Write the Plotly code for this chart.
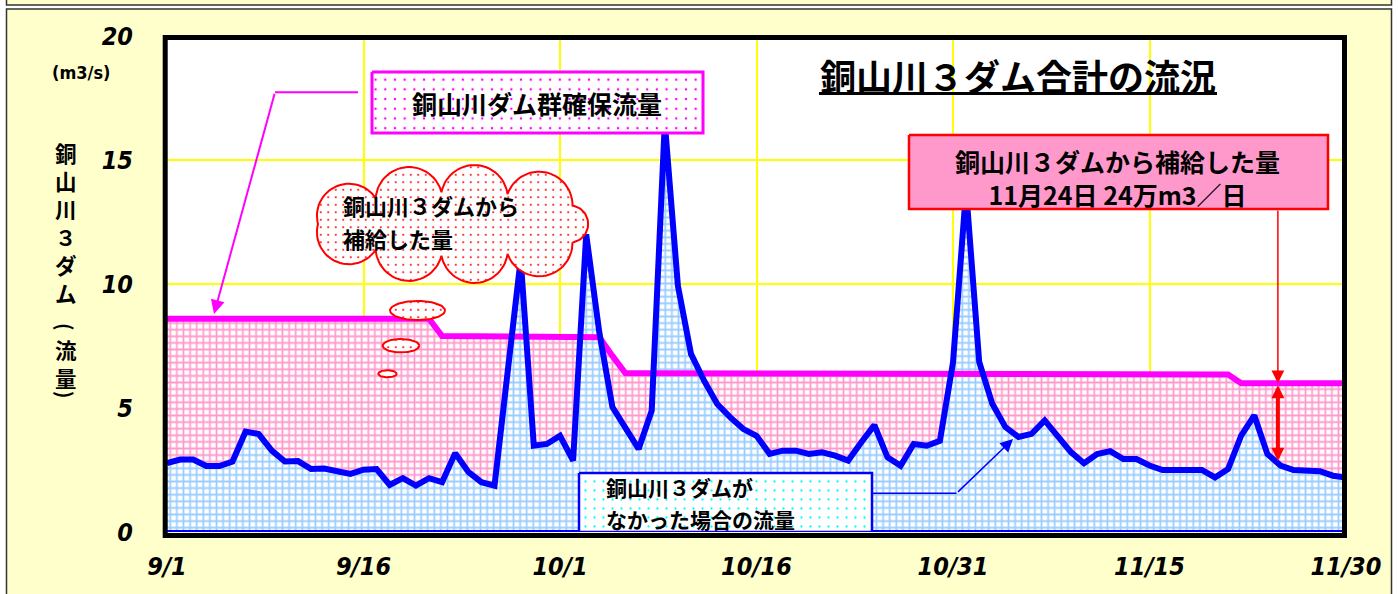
import numpy as np
import plotly.graph_objects as go

# ---------------- data ----------------
tick_days = [0, 15, 30, 45, 60, 75, 90]
tick_labels = ["9/1", "9/16", "10/1", "10/16", "10/31", "11/15", "11/30"]
y_ticks = [0, 5, 10, 15, 20]
y_tick_labels = ["0", "5", "10", "15", "20"]

# flow without the 3 dams (m3/s), 9/1 .. 11/30
flow = [2.78, 2.92, 2.92, 2.66, 2.66, 2.84, 4.05, 3.95, 3.28, 2.84,
        2.86, 2.54, 2.56, 2.42, 2.34, 2.51, 2.54, 1.90, 2.17, 1.87,
        2.17, 2.01, 3.18, 2.42, 2.01, 1.87, 6.50, 11.0, 3.48, 3.55,
        3.88, 2.88, 12.0, 8.05, 5.04, 4.15, 3.35, 4.89, 16.5, 9.93,
        7.18, 6.10, 5.16, 4.62, 4.15, 3.88, 3.15, 3.28, 3.28, 3.15,
        3.21, 3.08, 2.88, 3.62, 4.31, 3.01, 2.67, 3.55, 3.48, 3.68,
        6.84, 13.8, 6.86, 5.17, 4.23, 3.83, 3.96, 4.50, 3.89, 3.22,
        2.77, 3.14, 3.26, 2.94, 2.94, 2.68, 2.50, 2.50, 2.48, 2.50,
        2.20, 2.54, 3.89, 4.70, 3.14, 2.68, 2.50, 2.50, 2.45, 2.27,
        2.20]

# secured flow of the dam group (m3/s)
secured = [8.6, 8.6, 8.6, 8.6, 8.6, 8.6, 8.6, 8.6, 8.6, 8.6,
           8.6, 8.6, 8.6, 8.6, 8.6, 8.6, 8.6, 8.6, 8.6, 8.6,
           8.6, 7.9, 7.9, 7.9, 7.9, 7.9, 7.9, 7.9, 7.9, 7.85,
           7.85, 7.85, 7.85, 7.85, 7.1, 6.4, 6.4, 6.4, 6.4, 6.4,
           6.4, 6.4, 6.4, 6.4, 6.4, 6.4, 6.4, 6.4, 6.4, 6.4,
           6.4, 6.4, 6.4, 6.4, 6.4, 6.4, 6.4, 6.4, 6.4, 6.4,
           6.4, 6.35, 6.35, 6.35, 6.35, 6.35, 6.35, 6.35, 6.35, 6.35,
           6.35, 6.35, 6.35, 6.35, 6.35, 6.35, 6.35, 6.35, 6.35, 6.35,
           6.35, 6.35, 6.0, 6.0, 6.0, 6.0, 6.0, 6.0, 6.0, 6.0,
           6.0]

days = list(range(len(flow)))
supply_day = 84.8  # 11/24 marker

# ---------------- layout geometry ----------------
W, H = 1398, 594
ML, MR, MT, MB = 167, 52, 36, 62
XMAX, YMAX = 90, 20
PW, PH = W - ML - MR, H - MT - MB
XS, YS = PW / XMAX, PH / YMAX


def dx(px):
    return (np.asarray(px, dtype=float) - ML) / XS


def dy(py):
    return (H - MB - np.asarray(py, dtype=float)) / YS


def ppx(px):
    return (px - ML) / PW


def ppy(py):
    return (H - MB - py) / PH


def rect_xy(x0, y0, x1, y1):
    return dx([x0, x1, x1, x0, x0]).tolist(), dy([y0, y0, y1, y1, y0]).tolist()


def ellipse_xy(cx, cy, rx, ry, n=80):
    t = np.linspace(0, 2 * np.pi, n)
    return dx(cx + rx * np.cos(t)).tolist(), dy(cy + ry * np.sin(t)).tolist()


def cloud_xy(cx, cy, a, b, nb, k=0.85, phase=0.3, per=30):
    t = np.linspace(0, 2 * np.pi, 3000)
    ex, ey = cx + a * np.cos(t), cy + b * np.sin(t)
    s = np.concatenate([[0], np.cumsum(np.hypot(np.diff(ex), np.diff(ey)))])
    tg = np.mod(np.linspace(0, s[-1], nb + 1)[:-1] + s[-1] / nb * phase, s[-1])
    px, py = np.interp(tg, s, ex), np.interp(tg, s, ey)
    xs, ys = [], []
    C = np.array([cx, cy])
    for i in range(nb):
        P = np.array([px[i], py[i]])
        Q = np.array([px[(i + 1) % nb], py[(i + 1) % nb]])
        M = (P + Q) / 2
        c2 = np.linalg.norm(Q - P) / 2
        u = (Q - P) / (2 * c2)
        n = np.array([-u[1], u[0]])
        if np.dot(n, M - C) < 0:
            n = -n
        h = k * c2
        R = (c2 ** 2 + h ** 2) / (2 * h)
        O = M - n * (R - h)
        aP = np.arctan2(*(P - O)[::-1])
        aQ = np.arctan2(*(Q - O)[::-1])
        an = np.arctan2(n[1], n[0])
        dP = (aP - an + np.pi) % (2 * np.pi) - np.pi
        dQ = (aQ - an + np.pi) % (2 * np.pi) - np.pi
        ang = an + np.linspace(dP, dQ, per)
        xs.extend(O[0] + R * np.cos(ang))
        ys.extend(O[1] + R * np.sin(ang))
    xs.append(xs[0])
    ys.append(ys[0])
    return dx(xs).tolist(), dy(ys).tolist()


JP = "Noto Sans CJK JP"
NUM = "DejaVu Sans Condensed, Liberation Sans Narrow, DejaVu Sans, sans-serif"
PINK_GRID = "#FF99CC"
BLUE_GRID = "#99CCFF"

fig = go.Figure()

# pink area under secured flow
fig.add_trace(go.Scatter(
    x=days, y=secured, mode="lines", line=dict(width=0), fill="tozeroy",
    fillcolor="white",
    fillpattern=dict(shape="+", fgcolor=PINK_GRID, bgcolor="white", size=6.6,
                     solidity=0.45, fgopacity=1),
    hoverinfo="skip"))

# blue area under natural flow (closed polygon with outline)
fig.add_trace(go.Scatter(
    x=days + [days[-1], days[0]], y=flow + [0, 0], mode="lines",
    line=dict(width=4, color="#0000FF"), fill="toself", fillcolor="white",
    fillpattern=dict(shape="+", fgcolor=BLUE_GRID, bgcolor="white", size=6.6,
                     solidity=0.45, fgopacity=1),
    hoverinfo="skip"))

# secured flow line
fig.add_trace(go.Scatter(x=days, y=secured, mode="lines",
                         line=dict(width=6, color="#FF00FF"), hoverinfo="skip"))
# natural flow line
fig.add_trace(go.Scatter(x=days, y=flow, mode="lines",
                         line=dict(width=6, color="#0000FF"), hoverinfo="skip"))

# --- callout boxes ---
bx, by = rect_xy(579, 473, 872, 532)
fig.add_trace(go.Scatter(x=bx, y=by, mode="lines", line=dict(width=2.5, color="#0000FF"),
                         fill="toself", fillcolor="white",
                         fillpattern=dict(shape=".", fgcolor="#00FFFF", bgcolor="white",
                                          size=9, solidity=0.05, fgopacity=1),
                         hoverinfo="skip"))

mx, my = rect_xy(372, 72, 703, 133)
fig.add_trace(go.Scatter(x=mx, y=my, mode="lines", line=dict(width=3, color="#FF00FF"),
                         fill="toself", fillcolor="white",
                         fillpattern=dict(shape=".", fgcolor="#FF00FF", bgcolor="white",
                                          size=9.7, solidity=0.05, fgopacity=1),
                         hoverinfo="skip"))

rx, ry = rect_xy(909, 135, 1328, 209)
fig.add_trace(go.Scatter(x=rx, y=ry, mode="lines", line=dict(width=2.5, color="#FF0000"),
                         fill="toself", fillcolor="#FF99CC", hoverinfo="skip"))

cx_, cy_ = cloud_xy(458, 224, 140, 32, 9, k=0.85, phase=0.5)
fig.add_trace(go.Scatter(x=cx_, y=cy_, mode="lines", line=dict(width=2, color="#FF0000"),
                         fill="toself", fillcolor="white",
                         fillpattern=dict(shape=".", fgcolor="#FF0000", bgcolor="white",
                                          size=7.5, solidity=0.06, fgopacity=1),
                         hoverinfo="skip"))

for (ecx, ecy, erx, ery, dotted) in [(417.5, 310.5, 27.5, 9.5, True),
                                      (401, 345.7, 18.3, 6.7, True),
                                      (387.5, 373.8, 9.2, 3.5, False)]:
    ex_, ey_ = ellipse_xy(ecx, ecy, erx, ery)
    kw = dict(fillcolor="white")
    if dotted:
        kw["fillpattern"] = dict(shape=".", fgcolor="#FF0000", bgcolor="white",
                                 size=7.5, solidity=0.06, fgopacity=1)
    fig.add_trace(go.Scatter(x=ex_, y=ey_, mode="lines", line=dict(width=2, color="#FF0000"),
                             fill="toself", hoverinfo="skip", **kw))

shapes = []
# page background panels
shapes.append(dict(type="rect", xref="paper", yref="paper", x0=ppx(0), x1=ppx(6), y0=ppy(0), y1=ppy(H),
                   fillcolor="white", line=dict(width=0), layer="below"))
shapes.append(dict(type="rect", xref="paper", yref="paper", x0=ppx(1392), x1=ppx(W), y0=ppy(0), y1=ppy(H),
                   fillcolor="white", line=dict(width=0), layer="below"))
shapes.append(dict(type="rect", xref="paper", yref="paper", x0=ppx(6), x1=ppx(1392), y0=ppy(5.5), y1=ppy(8.5),
                   fillcolor="white", line=dict(width=0), layer="below"))
shapes.append(dict(type="rect", xref="paper", yref="paper", x0=ppx(6.5), x1=ppx(1391.5), y0=ppy(-5), y1=ppy(5),
                   line=dict(width=1.5, color="#333333"), layer="above"))
shapes.append(dict(type="rect", xref="paper", yref="paper", x0=ppx(6.5), x1=ppx(1391.5), y0=ppy(9), y1=ppy(H + 5),
                   line=dict(width=1.5, color="#333333"), layer="above"))
# thick black frame of the plot
shapes.append(dict(type="rect", xref="paper", yref="paper", x0=ppx(165.2), x1=ppx(1344.5),
                   y0=ppy(535.5), y1=ppy(37.5), line=dict(width=5, color="black"), layer="above"))
# title underline
shapes.append(dict(type="line", xref="paper", yref="paper", x0=ppx(819), x1=ppx(1217),
                   y0=ppy(93.5), y1=ppy(93.5), line=dict(width=3, color="black"), layer="above"))
# callout leader lines
shapes.append(dict(type="line", xref="paper", yref="paper", x0=ppx(275), x1=ppx(358),
                   y0=ppy(92.3), y1=ppy(92.3), line=dict(width=2, color="#FF00FF"), layer="above"))
shapes.append(dict(type="line", xref="paper", yref="paper", x0=ppx(872), x1=ppx(956.5),
                   y0=ppy(493.3), y1=ppy(493.3), line=dict(width=1.5, color="#0000FF"), layer="above"))

annotations = []


def txt(text, px, py, size, xanchor="center", family=JP, align="center", angle=0):
    annotations.append(dict(text=text, xref="paper", yref="paper", x=ppx(px), y=ppy(py),
                            xanchor=xanchor, yanchor="middle", showarrow=False, align=align,
                            borderpad=0, textangle=angle,
                            font=dict(family=family, size=size, color="black")))


txt("<b>銅山川３ダム合計の流況</b>", 1018, 75, 36)
txt("<b>銅山川ダム群確保流量</b>", 537, 103, 25)
txt("<b>銅山川３ダムから</b>", 342, 205, 22, xanchor="left")
txt("<b>補給した量</b>", 342, 238, 22, xanchor="left")
txt("<b>銅山川３ダムから補給した量<br>11月24日 24万m3／日</b>", 1117, 177, 25)
txt("<b>銅山川３ダムが</b>", 605, 487, 21, xanchor="left")
txt("<b>なかった場合の流量</b>", 605, 519, 21, xanchor="left")
txt("<b>(m3/s)</b>", 81, 72, 18, family=NUM)
# vertical axis title 銅山川３ダム（流量）
txt("<b>" + "<br>".join(list("銅山川３ダム")) + "</b>", 66, 222, 21.5)
txt("<b>(</b>", 66, 327, 20, angle=90)
txt("<b>流<br>量</b>", 66, 363, 21.5)
txt("<b>)</b>", 66, 395, 20, angle=90)

# arrows
annotations.append(dict(text="", x=float(dx(214)), y=float(dy(314)), ax=float(dx(275)), ay=float(dy(92.3)),
                        xref="x", yref="y", axref="x", ayref="y", showarrow=True,
                        arrowhead=2, arrowsize=1.4, arrowwidth=2, arrowcolor="#FF00FF"))
annotations.append(dict(text="", x=float(dx(1013)), y=float(dy(439)), ax=float(dx(956.5)), ay=float(dy(493.3)),
                        xref="x", yref="y", axref="x", ayref="y", showarrow=True,
                        arrowhead=2, arrowsize=1.7, arrowwidth=1.5, arrowcolor="#0000FF"))
sec_at = float(np.interp(supply_day, days, secured))
flow_at = float(np.interp(supply_day, days, flow))
annotations.append(dict(text="", x=supply_day, y=sec_at, ax=supply_day, ay=float(dy(209)),
                        xref="x", yref="y", axref="x", ayref="y", showarrow=True,
                        arrowhead=2, arrowsize=1.7, arrowwidth=1.5, arrowcolor="#FF0000"))
annotations.append(dict(text="", x=supply_day, y=flow_at + 0.1, ax=supply_day, ay=sec_at - 0.02,
                        xref="x", yref="y", axref="x", ayref="y", showarrow=True,
                        arrowside="end+start", arrowhead=2, startarrowhead=2,
                        arrowsize=0.65, startarrowsize=0.65, arrowwidth=4, arrowcolor="#FF0000"))

fig.update_layout(
    width=W, height=H, margin=dict(l=ML, r=MR, t=MT, b=MB, pad=0),
    paper_bgcolor="#FFFFCC", plot_bgcolor="white", showlegend=False, hovermode=False,
    font=dict(family=JP, color="black"),
    shapes=shapes, annotations=annotations,
    xaxis=dict(range=[0, XMAX], tickvals=tick_days, ticktext=tick_labels, showgrid=True,
               gridcolor="#FFFF00", gridwidth=2, zeroline=False, showline=False,
               ticks="outside", ticklen=12, tickcolor="rgba(0,0,0,0)",
               tickfont=dict(family=NUM, size=25, weight="bold", style="italic", color="black"),
               fixedrange=True),
    yaxis=dict(range=[0, YMAX], tickvals=y_ticks, ticktext=y_tick_labels, showgrid=True,
               gridcolor="#FFFF00", gridwidth=2, zeroline=False, showline=False,
               ticks="outside", ticklen=28, tickcolor="rgba(0,0,0,0)",
               tickfont=dict(family=NUM, size=25, weight="bold", style="italic", color="black"),
               fixedrange=True),
)

fig.write_html("out.html", config={"displayModeBar": False},
               post_script="document.body.style.margin='0';document.body.style.overflow='hidden';")
